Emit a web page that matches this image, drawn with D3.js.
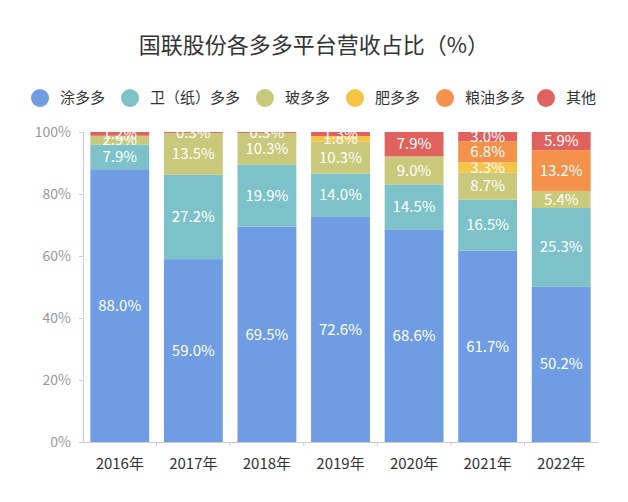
<!DOCTYPE html>
<head>
    <meta charset="utf-8">
    <title>国联股份各多多平台营收占比</title>
    <script src="https://cdn.jsdelivr.net/npm/d3@7/dist/d3.min.js"></script>
    <style>
        body { margin: 0; background: #fff; }
        text { font-family: "Noto Sans CJK SC", "Noto Sans", sans-serif; }
    </style>
</head>

<body>
    <div id="chart"></div>
</body>

<script>
    var years = ['2016年', '2017年', '2018年', '2019年', '2020年', '2021年', '2022年'];
    var series = ['涂多多', '卫（纸）多多', '玻多多', '肥多多', '粮油多多', '其他'];
    var colors = ['#6f9ce3', '#7dc2c9', '#c8c97b', '#f6c546', '#f4914a', '#e0625f'];

    var tuduoduo = [88.0, 59.0, 69.5, 72.6, 68.6, 61.7, 50.2];
    var weizhi = [7.9, 27.2, 19.9, 14.0, 14.5, 16.5, 25.3];
    var boduoduo = [2.9, 13.5, 10.3, 10.3, 9.0, 8.7, 5.4];
    var feiduoduo = [0, 0, 0, 1.8, 0, 3.3, 0];
    var liangyou = [0, 0, 0, 0, 0, 6.8, 13.2];
    var other = [1.2, 0.3, 0.3, 1.3, 7.9, 3.0, 5.9];
    var yTicks = [0, 20, 40, 60, 80, 100];

    var values = [tuduoduo, weizhi, boduoduo, feiduoduo, liangyou, other];
    var rows = years.map((y, i) => {
        var r = { year: y };
        series.forEach((s, j) => r[s] = values[j][i]);
        return r;
    });

    var width = 628, height = 502;
    var margin = { top: 132, right: 30, bottom: 60, left: 83 };

    var svg = d3.select('#chart')
        .append('svg')
        .attr('width', width)
        .attr('height', height);

    svg.append('text')
        .attr('x', width / 2)
        .attr('y', 53)
        .attr('text-anchor', 'middle')
        .attr('font-size', 22)
        .attr('fill', '#333')
        .text('国联股份各多多平台营收占比（%）');

    // legend
    var legendX = [40, 130, 265, 355, 445, 546];
    var legend = svg.append('g');
    series.forEach((s, i) => {
        var g = legend.append('g').attr('transform', `translate(${legendX[i]},98)`);
        g.append('circle').attr('r', 9).attr('fill', colors[i]);
        g.append('text')
            .attr('x', 20)
            .attr('dy', '0.35em')
            .attr('font-size', 15)
            .attr('fill', '#333')
            .text(s);
    });

    var x = d3.scaleBand()
        .domain(years)
        .range([margin.left, width - margin.right])
        .paddingInner(0.2)
        .paddingOuter(0.1);

    var y = d3.scaleLinear()
        .domain([0, 100])
        .range([height - margin.bottom, margin.top]);

    var stack = d3.stack().keys(series)(rows);

    var layers = svg.append('g')
        .selectAll('g')
        .data(stack)
        .join('g')
        .attr('fill', (d, i) => colors[i]);

    layers.selectAll('rect')
        .data(d => d)
        .join('rect')
        .attr('x', d => x(d.data.year))
        .attr('width', x.bandwidth())
        .attr('y', d => y(d[1]))
        .attr('height', d => y(d[0]) - y(d[1]));

    // y axis
    var yAxis = svg.append('g')
        .attr('transform', `translate(${margin.left},0)`)
        .call(d3.axisLeft(y).tickValues(yTicks).tickFormat(d => d + '%').tickSize(4).tickPadding(8));
    yAxis.selectAll('line, path').attr('stroke', '#ccc');
    yAxis.selectAll('text').attr('fill', '#999').attr('font-size', 14);

    // x axis
    var step = x.step();
    var xAxis = svg.append('g')
        .attr('transform', `translate(0,${height - margin.bottom})`)
        .call(d3.axisBottom(x).tickSize(0).tickPadding(16));
    xAxis.select('path').attr('stroke', '#ccc');
    xAxis.selectAll('text').attr('fill', '#333').attr('font-size', 15);
    xAxis.selectAll('.sep')
        .data(years.slice(1))
        .join('line')
        .attr('class', 'sep')
        .attr('x1', d => x(d) - x.padding() * step / 2)
        .attr('x2', d => x(d) - x.padding() * step / 2)
        .attr('y1', 0)
        .attr('y2', 4)
        .attr('stroke', '#ccc');

    // value labels
    layers.selectAll('text')
        .data(d => d.filter(p => p[1] - p[0] > 0))
        .join('text')
        .attr('x', d => x(d.data.year) + x.bandwidth() / 2)
        .attr('y', d => y((d[0] + d[1]) / 2))
        .attr('dy', '0.35em')
        .attr('text-anchor', 'middle')
        .attr('font-size', 15)
        .attr('fill', '#fff')
        .text(d => (d[1] - d[0]).toFixed(1) + '%');
</script>
